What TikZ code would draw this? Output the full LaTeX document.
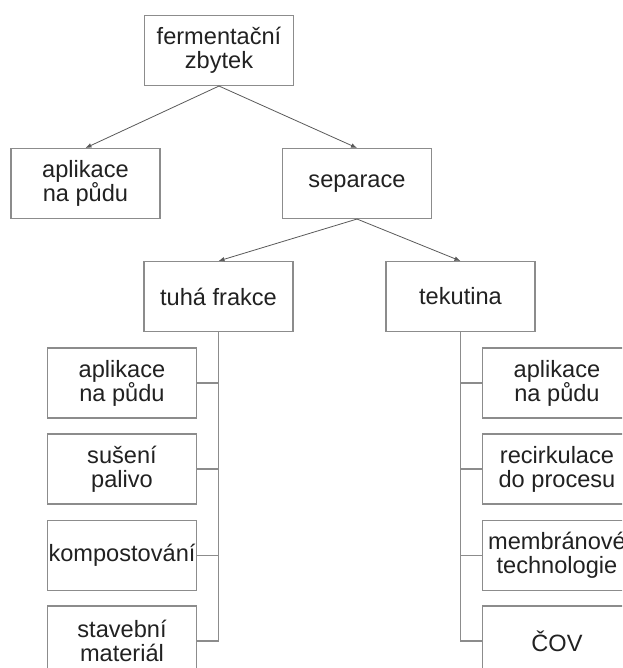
\documentclass[tikz,border=0pt]{standalone}
\usepackage{fontspec}
\setmainfont{Liberation Sans}
\usepackage{xcolor}
\definecolor{boxgray}{gray}{0.55}
\definecolor{linegray}{gray}{0.35}
\definecolor{textgray}{gray}{0.13}
\usepackage{tikz}
\usetikzlibrary{arrows.meta, positioning}

\tikzset{
	box/.style={draw=boxgray, line width=0.8pt, text=textgray, align=center,
		minimum width=111.75pt, minimum height=52.5pt, inner sep=1pt,
		font=\fontsize{17.7}{18}\selectfont},
	arr/.style={draw=linegray, line width=0.6pt, -{Latex[length=4.5pt,width=3.5pt]}},
	branch/.style={draw=boxgray, line width=0.8pt}
}

\begin{document}
\begin{tikzpicture}[x=0.75pt, y=-0.75pt]

\useasboundingbox (0,0) rectangle (622,668); % page = 622x668 px
\clip (0,0) rectangle (622,668);

\def \xleft{122}  % column of the solid fraction
\def \xright{557} % column of the liquid fraction

% upper levels
\node[box] (zbytek)   at (219, 50.5)    {fermentační\\zbytek};
\node[box] (aplikace) at (85.5, 183.5)  {aplikace\\na půdu};
\node[box] (separace) at (357, 183.5)   {separace};
\node[box] (tuha)     at (218.5, 296.5) {tuhá frakce};
\node[box] (tekutina) at (460.5, 296.5) {tekutina};

\draw[arr] (zbytek.south)   -- (aplikace.north);
\draw[arr] (zbytek.south)   -- (separace.north);
\draw[arr] (separace.south) -- (tuha.north);
\draw[arr] (separace.south) -- (tekutina.north);

% solid fraction
\foreach \name/\y/\txt in {
	ta/383/{aplikace\\na půdu},
	tb/469/{sušení\\palivo},
	tc/555.5/{kompostování},
	td/641/{stavební\\materiál}} {
	\node[box] (\name) at (\xleft, \y) {\txt};
	\draw[branch] (tuha.south) |- (\name.east); % branch line
}

% liquid fraction
\foreach \name/\y/\txt in {
	ka/383/{aplikace\\na půdu},
	kb/469/{recirkulace\\do procesu},
	kc/555.5/{membránové\\technologie},
	kd/641/{ČOV}} {
	\node[box] (\name) at (\xright, \y) {\txt};
	\draw[branch] (tekutina.south) |- (\name.west); % branch line
}

\end{tikzpicture}
\end{document}
